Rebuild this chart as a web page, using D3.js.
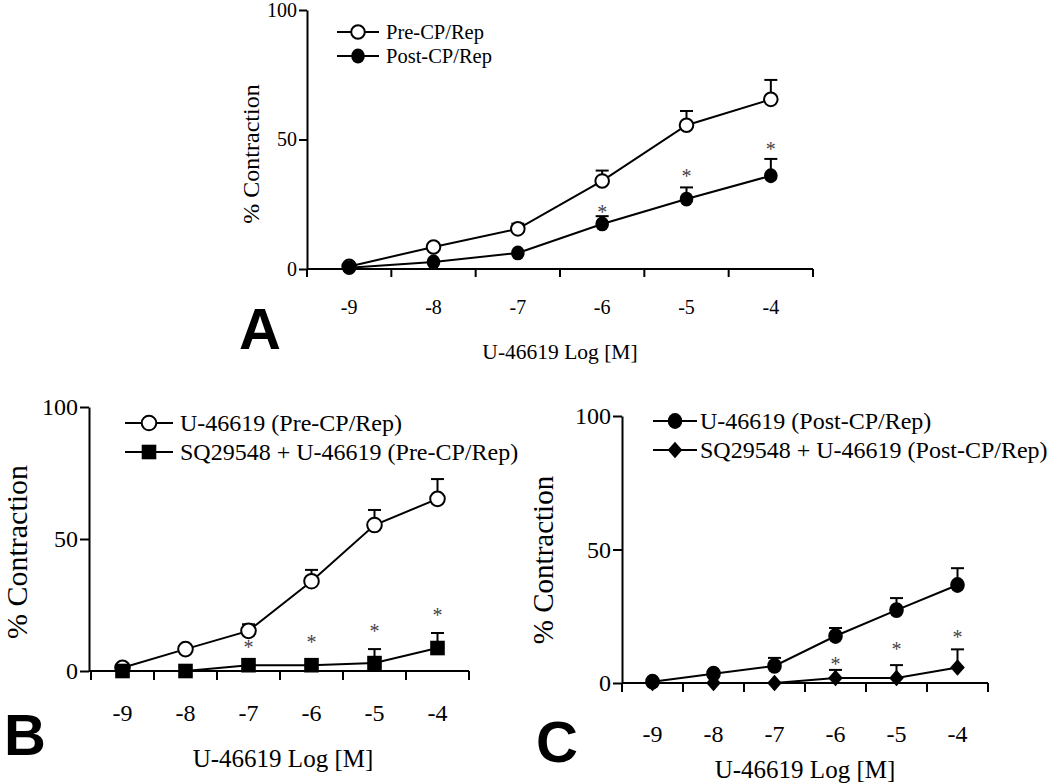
<!DOCTYPE html>
<html><head><meta charset="utf-8">
<script src="https://cdn.jsdelivr.net/npm/d3@7"></script>
<style>body{margin:0;background:#fff}</style>
</head><body>
<svg id="c" width="1050" height="784"></svg>
<script>
const cats = [-9, -8, -7, -6, -5, -4];
const yTicks = [0, 50, 100];

// Panel A
const aPre = [1, 8.5, 15.5, 34, 55.5, 65.5];
const aPreErr = [0, 0, 2, 4, 5.5, 7.5];
const aPost = [0.5, 2.7, 6.2, 17.4, 27, 36];
const aPostErr = [0, 0, 0, 3, 4.5, 6.5];
const aStars = [null, null, null, 22.8, 36.7, 47];

// Panel B
const bU = [1.2, 8.3, 15.2, 34, 55.3, 65.2];
const bUErr = [0, 0, 2.5, 4.3, 5.7, 7.5];
const bSQ = [0, 0, 2.2, 2.2, 3, 8.7];
const bSQErr = [0, 0, 0, 0, 5.3, 5.7];
const bStars = [null, null, 9.8, 11.7, 15.9, 22];

// Panel C
const cU = [0.5, 3.5, 6.4, 17.6, 27.3, 36.7];
const cUErr = [0, 0, 3, 3, 4.5, 6.3];
const cSQ = [0, 0, 0, 1.9, 1.9, 5.8];
const cSQErr = [0, 0, 0, 3, 4.8, 6.8];
const cStars = [null, null, null, 7.9, 13.5, 18];

const svg = d3.select("#c");
const SERIF = "'Liberation Serif','Times New Roman',serif";
const SANS = "'Liberation Sans',Arial,sans-serif";

function drawMarker(g, type, cx, cy, s) {
  if (type === "open") {
    g.append("circle").attr("cx", cx).attr("cy", cy).attr("r", s)
      .attr("fill", "#fff").attr("stroke", "#000").attr("stroke-width", 2);
  } else if (type === "filled") {
    g.append("ellipse").attr("cx", cx).attr("cy", cy).attr("rx", s).attr("ry", s + 0.6)
      .attr("fill", "#000");
  } else if (type === "square") {
    g.append("rect").attr("x", cx - s).attr("y", cy - s).attr("width", 2 * s).attr("height", 2 * s)
      .attr("fill", "#000");
  } else if (type === "diamond") {
    g.append("path").attr("d", `M${cx},${cy - s - 1}L${cx + s},${cy}L${cx},${cy + s + 1}L${cx - s},${cy}Z`)
      .attr("fill", "#000");
  }
}

function panel(cfg) {
  const g = svg.append("g");
  const x = d3.scaleBand().domain(cats).range(cfg.xRange);
  const y = d3.scaleLinear().domain([0, 100]).range(cfg.yRange);
  const cx = c => x(c) + x.bandwidth() / 2;

  // y axis
  const ya = g.append("g").attr("transform", `translate(${cfg.yAxisX},0)`)
    .call(d3.axisLeft(y).tickValues(yTicks).tickSize(cfg.tick).tickSizeOuter(0).tickPadding(2));
  ya.select(".domain").attr("stroke", "#000").attr("stroke-width", 2);
  ya.selectAll(".tick line").attr("stroke", "#000").attr("stroke-width", 2);
  ya.selectAll(".tick text").attr("font-family", SERIF).attr("font-size", cfg.tickFs).attr("fill", "#000");

  // x axis line + ticks at band boundaries
  const y0 = y(0);
  g.append("line").attr("x1", cfg.yAxisX).attr("x2", cfg.xRange[1]).attr("y1", y0).attr("y2", y0)
    .attr("stroke", "#000").attr("stroke-width", 2);
  const bounds = cats.map(c => x(c)).concat([cfg.xRange[1]]);
  g.selectAll(".xt").data(bounds).enter().append("line")
    .attr("x1", d => d).attr("x2", d => d).attr("y1", y0).attr("y2", y0 + cfg.tick)
    .attr("stroke", "#000").attr("stroke-width", 2);
  g.selectAll(".xl").data(cats).enter().append("text")
    .attr("x", d => cx(d)).attr("y", cfg.xLabelY).attr("text-anchor", "middle")
    .attr("font-family", SERIF).attr("font-size", cfg.tickFs).text(d => d);

  // axis titles
  g.append("text").attr("x", (cfg.yAxisX + cfg.xRange[1]) / 2 + (cfg.xTitleDx || 0)).attr("y", cfg.xTitleY)
    .attr("text-anchor", "middle").attr("font-family", SERIF).attr("font-size", cfg.titleFs)
    .text("U-46619 Log [M]");
  g.append("text").attr("transform", `translate(${cfg.yTitle[0]},${cfg.yTitle[1]}) rotate(-90)`)
    .attr("text-anchor", "middle").attr("dominant-baseline", "central")
    .attr("font-family", SERIF).attr("font-size", cfg.yTitleFs).text("% Contraction");

  // panel letter
  g.append("text").attr("x", cfg.letter[0]).attr("y", cfg.letter[1]).attr("text-anchor", "middle")
    .attr("font-family", SANS).attr("font-weight", "bold").attr("font-size", 58).text(cfg.letterText);

  // series
  const line = d3.line().x((d, i) => cx(cats[i])).y(d => y(d));
  cfg.series.forEach(s => {
    g.append("path").attr("d", line(s.values)).attr("fill", "none")
      .attr("stroke", "#000").attr("stroke-width", 2);
  });
  cfg.series.forEach(s => {
    s.values.forEach((v, i) => {
      const e = s.errs[i];
      if (e > 0) {
        const px = cx(cats[i]);
        g.append("line").attr("x1", px).attr("x2", px).attr("y1", y(v)).attr("y2", y(v + e))
          .attr("stroke", "#000").attr("stroke-width", 2);
        g.append("line").attr("x1", px - 6.5).attr("x2", px + 6.5).attr("y1", y(v + e)).attr("y2", y(v + e))
          .attr("stroke", "#000").attr("stroke-width", 2);
      }
    });
    s.values.forEach((v, i) => drawMarker(g, s.marker, cx(cats[i]), y(v), cfg.ms));
  });

  // stars
  cfg.stars.forEach((v, i) => {
    if (v == null) return;
    g.append("text").attr("x", cx(cats[i])).attr("y", y(v) + 9).attr("text-anchor", "middle")
      .attr("font-family", SERIF).attr("font-size", 20).attr("fill", "#444").text("*");
  });

  // legend
  cfg.legend.forEach((l, k) => {
    const ly = cfg.legendPos.rows[k];
    const [lx1, lx2, tx] = cfg.legendPos.x;
    g.append("line").attr("x1", lx1).attr("x2", lx2).attr("y1", ly).attr("y2", ly)
      .attr("stroke", "#000").attr("stroke-width", 2);
    drawMarker(g, cfg.series[k].marker, (lx1 + lx2) / 2, ly, cfg.ms);
    g.append("text").attr("x", tx).attr("y", ly).attr("dominant-baseline", "central")
      .attr("font-family", SERIF).attr("font-size", cfg.legendFs).text(l);
  });
}

panel({
  xRange: [307, 813], yRange: [269, 10], yAxisX: 307, tick: 8, tickFs: 20,
  xLabelY: 314, xTitleY: 359, titleFs: 21.5, yTitle: [251, 154], yTitleFs: 24,
  letter: [260, 349], letterText: "A", ms: 6.8,
  series: [{values: aPre, errs: aPreErr, marker: "open"}, {values: aPost, errs: aPostErr, marker: "filled"}],
  stars: aStars,
  legend: ["Pre-CP/Rep", "Post-CP/Rep"], legendFs: 20.5,
  legendPos: {rows: [32, 56], x: [337, 379, 386]}
});

panel({
  xRange: [91, 469], yRange: [671, 407], yAxisX: 89, tick: 9, tickFs: 24,
  xLabelY: 721, xTitleY: 767, xTitleDx: 4, titleFs: 25, yTitle: [16, 552], yTitleFs: 30,
  letter: [25, 755], letterText: "B", ms: 7.3,
  series: [{values: bU, errs: bUErr, marker: "open"}, {values: bSQ, errs: bSQErr, marker: "square"}],
  stars: bStars,
  legend: ["U-46619 (Pre-CP/Rep)", "SQ29548 + U-46619 (Pre-CP/Rep)"], legendFs: 24,
  legendPos: {rows: [423, 452], x: [125, 173, 180]}
});

panel({
  xRange: [622, 988], yRange: [683, 416], yAxisX: 622, tick: 9, tickFs: 24,
  xLabelY: 742, xTitleY: 778, titleFs: 25, yTitle: [543, 560], yTitleFs: 29,
  letter: [557, 762], letterText: "C", ms: 7.3,
  series: [{values: cU, errs: cUErr, marker: "filled"}, {values: cSQ, errs: cSQErr, marker: "diamond"}],
  stars: cStars,
  legend: ["U-46619 (Post-CP/Rep)", "SQ29548 + U-46619 (Post-CP/Rep)"], legendFs: 24,
  legendPos: {rows: [421, 450], x: [653, 697, 700]}
});
</script>
</body></html>
